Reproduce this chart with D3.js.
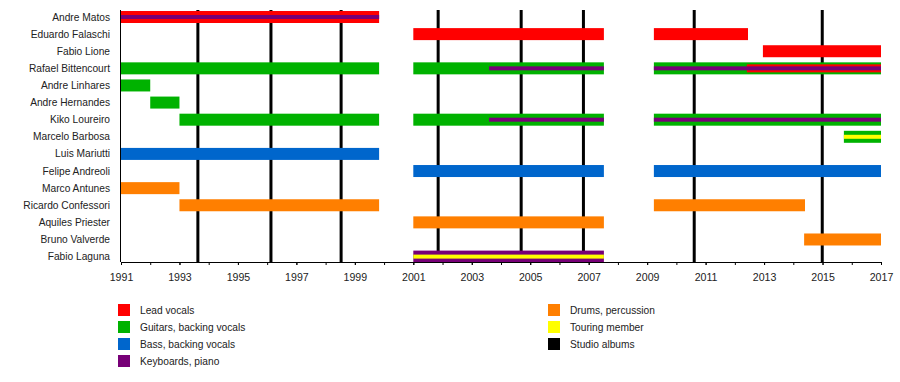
<!DOCTYPE html>
<html>
<head>
<meta charset="utf-8">
<script src="https://cdn.jsdelivr.net/npm/d3@7"></script>
<style>
  html, body { margin: 0; padding: 0; background: #fff; }
  svg { display: block; font-family: "Liberation Sans", Arial, sans-serif; }
</style>
</head>
<body>
<svg id="chart" width="900" height="382"></svg>
<script>
// ---- data ----
const members = ["Andre Matos", "Eduardo Falaschi", "Fabio Lione", "Rafael Bittencourt",
  "Andre Linhares", "Andre Hernandes", "Kiko Loureiro", "Marcelo Barbosa", "Luis Mariutti",
  "Felipe Andreoli", "Marco Antunes", "Ricardo Confessori", "Aquiles Priester",
  "Bruno Valverde", "Fabio Laguna"];

const roles = ["Lead vocals", "Guitars, backing vocals", "Bass, backing vocals",
  "Keyboards, piano", "Drums, percussion", "Touring member", "Studio albums"];
const roleColors = ["#ff0000", "#00b200", "#0066cc", "#770077", "#ff7f00", "#ffff00", "#000000"];

// full-height bars: [member, role, start, end]
const mainBars = [
  ["Andre Matos", "Lead vocals", 1991, 1999.83],
  ["Eduardo Falaschi", "Lead vocals", 2001, 2007.52],
  ["Eduardo Falaschi", "Lead vocals", 2009.23, 2012.45],
  ["Fabio Lione", "Lead vocals", 2012.96, 2017],
  ["Rafael Bittencourt", "Guitars, backing vocals", 1991, 1999.83],
  ["Rafael Bittencourt", "Guitars, backing vocals", 2001, 2007.52],
  ["Rafael Bittencourt", "Guitars, backing vocals", 2009.23, 2017],
  ["Andre Linhares", "Guitars, backing vocals", 1991, 1992],
  ["Andre Hernandes", "Guitars, backing vocals", 1992, 1993],
  ["Kiko Loureiro", "Guitars, backing vocals", 1993, 1999.83],
  ["Kiko Loureiro", "Guitars, backing vocals", 2001, 2007.52],
  ["Kiko Loureiro", "Guitars, backing vocals", 2009.23, 2017],
  ["Marcelo Barbosa", "Guitars, backing vocals", 2015.73, 2017],
  ["Luis Mariutti", "Bass, backing vocals", 1991, 1999.83],
  ["Felipe Andreoli", "Bass, backing vocals", 2001, 2007.52],
  ["Felipe Andreoli", "Bass, backing vocals", 2009.23, 2017],
  ["Marco Antunes", "Drums, percussion", 1991, 1993],
  ["Ricardo Confessori", "Drums, percussion", 1993, 1999.83],
  ["Ricardo Confessori", "Drums, percussion", 2009.23, 2014.4],
  ["Aquiles Priester", "Drums, percussion", 2001, 2007.52],
  ["Bruno Valverde", "Drums, percussion", 2014.37, 2017],
  ["Fabio Laguna", "Keyboards, piano", 2001, 2007.52]
];

// secondary (vocal) overlay bars: [member, role, start, end]
const midBars = [
  ["Rafael Bittencourt", "Lead vocals", 2012.41, 2017]
];

// thin overlay bars: [member, role, start, end]
const thinBars = [
  ["Andre Matos", "Keyboards, piano", 1991, 1999.83],
  ["Rafael Bittencourt", "Keyboards, piano", 2003.59, 2007.52],
  ["Rafael Bittencourt", "Keyboards, piano", 2009.23, 2017],
  ["Kiko Loureiro", "Keyboards, piano", 2003.59, 2007.52],
  ["Kiko Loureiro", "Keyboards, piano", 2009.23, 2017],
  ["Marcelo Barbosa", "Touring member", 2015.73, 2017],
  ["Fabio Laguna", "Touring member", 2001, 2007.52]
];

const albumYears = [1993.63, 1996.13, 1998.53, 2001.85, 2004.69, 2006.82, 2010.61, 2014.99];
const yearTicks = d3.range(1991, 2018, 1);
const yearLabels = d3.range(1991, 2018, 2);

// ---- drawing ----
const svg = d3.select("#chart");
const color = d3.scaleOrdinal().domain(roles).range(roleColors);
const x = d3.scaleLinear().domain([1991, 2017]).range([121, 881]);
const y = d3.scalePoint().domain(members).range([17, 256.6]);
const plotTop = 10, axisY = 262;

// album lines (behind bars)
svg.append("g").selectAll("rect").data(albumYears).join("rect")
  .attr("x", d => x(d) - 1.5).attr("width", 3)
  .attr("y", plotTop).attr("height", axisY - plotTop)
  .attr("fill", color("Studio albums"));

// left axis line
svg.append("line").attr("x1", x(1991) - 0.5).attr("x2", x(1991) - 0.5)
  .attr("y1", plotTop).attr("y2", axisY).attr("stroke", "#000").attr("stroke-width", 1);

function drawBars(data, h) {
  svg.append("g").selectAll("rect").data(data).join("rect")
    .attr("x", d => x(d[2])).attr("width", d => x(d[3]) - x(d[2]))
    .attr("y", d => y(d[0]) - h / 2).attr("height", h)
    .attr("fill", d => color(d[1]));
}
drawBars(mainBars, 12);
drawBars(midBars, 8);
drawBars(thinBars, 4);

// member names
svg.append("g").selectAll("text").data(members).join("text")
  .attr("x", 110).attr("y", d => y(d)).attr("dy", "0.35em")
  .attr("text-anchor", "end").attr("font-size", "10.2px").attr("fill", "#222")
  .text(d => d);

// axis: minor ticks every year
const axisMinor = d3.axisBottom(x).tickValues(yearTicks).tickSize(3).tickFormat("");
const gMinor = svg.append("g").attr("transform", `translate(0,${axisY})`).call(axisMinor);
gMinor.selectAll("path,line").attr("stroke", "#000");

const axisMajor = d3.axisBottom(x).tickValues(yearLabels).tickSize(3).tickPadding(8)
  .tickFormat(d3.format("d"));
const gMajor = svg.append("g").attr("transform", `translate(0,${axisY})`).call(axisMajor);
gMajor.select(".domain").remove();
gMajor.selectAll("line").attr("stroke", "#000");
gMajor.selectAll("text").attr("font-size", "10.6px").attr("fill", "#222")
  .attr("font-family", "'Liberation Sans', Arial, sans-serif");

// legend
const legendCols = [
  { items: roles.slice(0, 4), x: 118 },
  { items: roles.slice(4), x: 548 }
];
legendCols.forEach(col => {
  const g = svg.append("g");
  const rows = g.selectAll("g").data(col.items).join("g")
    .attr("transform", (d, i) => `translate(${col.x},${304 + i * 17})`);
  rows.append("rect").attr("width", 12).attr("height", 12).attr("fill", d => color(d));
  rows.append("text").attr("x", 22).attr("y", 6.5).attr("dy", "0.35em")
    .attr("font-size", "10.2px").attr("fill", "#222").text(d => d);
});
</script>
</body>
</html>
